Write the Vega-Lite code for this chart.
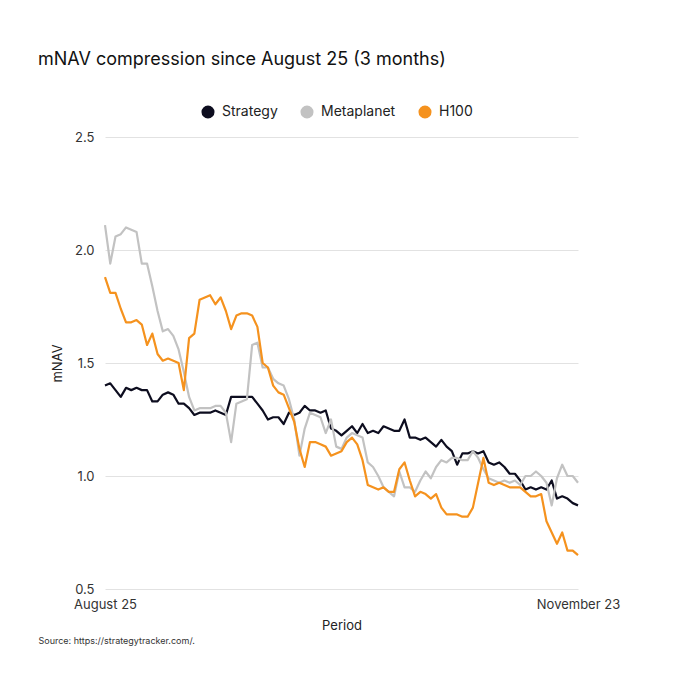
{
  "$schema": "https://vega.github.io/schema/vega-lite/v6.json",
  "width": 473,
  "height": 452,
  "autosize": {"type": "none"},
  "padding": {"left": 105, "top": 137, "right": 102, "bottom": 91},
  "background": "white",
  "config": {
    "font": "Inter",
    "view": {"stroke": null},
    "axis": {
      "labelFont": "Inter",
      "titleFont": "Inter",
      "labelColor": "#333333",
      "titleColor": "#222222",
      "labelFontSize": 13,
      "titleFontSize": 13,
      "titleFontWeight": "normal",
      "ticks": false,
      "domain": false
    }
  },
  "title": {
    "text": "mNAV compression since August 25 (3 months)",
    "anchor": "start",
    "frame": "group",
    "dx": -67,
    "offset": 36,
    "fontSize": 18,
    "fontWeight": "normal",
    "color": "#111111"
  },
  "data": {
    "values": [
      {"date": "2025-08-25", "Strategy": 1.40, "Metaplanet": 2.11, "H100": 1.88},
      {"date": "2025-08-26", "Strategy": 1.41, "Metaplanet": 1.94, "H100": 1.81},
      {"date": "2025-08-27", "Strategy": 1.38, "Metaplanet": 2.06, "H100": 1.81},
      {"date": "2025-08-28", "Strategy": 1.35, "Metaplanet": 2.07, "H100": 1.74},
      {"date": "2025-08-29", "Strategy": 1.39, "Metaplanet": 2.10, "H100": 1.68},
      {"date": "2025-08-30", "Strategy": 1.38, "Metaplanet": 2.09, "H100": 1.68},
      {"date": "2025-08-31", "Strategy": 1.39, "Metaplanet": 2.08, "H100": 1.69},
      {"date": "2025-09-01", "Strategy": 1.38, "Metaplanet": 1.94, "H100": 1.67},
      {"date": "2025-09-02", "Strategy": 1.38, "Metaplanet": 1.94, "H100": 1.58},
      {"date": "2025-09-03", "Strategy": 1.33, "Metaplanet": 1.84, "H100": 1.63},
      {"date": "2025-09-04", "Strategy": 1.33, "Metaplanet": 1.73, "H100": 1.54},
      {"date": "2025-09-05", "Strategy": 1.36, "Metaplanet": 1.64, "H100": 1.51},
      {"date": "2025-09-06", "Strategy": 1.37, "Metaplanet": 1.65, "H100": 1.52},
      {"date": "2025-09-07", "Strategy": 1.36, "Metaplanet": 1.62, "H100": 1.51},
      {"date": "2025-09-08", "Strategy": 1.32, "Metaplanet": 1.56, "H100": 1.50},
      {"date": "2025-09-09", "Strategy": 1.32, "Metaplanet": 1.46, "H100": 1.38},
      {"date": "2025-09-10", "Strategy": 1.30, "Metaplanet": 1.35, "H100": 1.61},
      {"date": "2025-09-11", "Strategy": 1.27, "Metaplanet": 1.29, "H100": 1.63},
      {"date": "2025-09-12", "Strategy": 1.28, "Metaplanet": 1.30, "H100": 1.78},
      {"date": "2025-09-13", "Strategy": 1.28, "Metaplanet": 1.30, "H100": 1.79},
      {"date": "2025-09-14", "Strategy": 1.28, "Metaplanet": 1.30, "H100": 1.80},
      {"date": "2025-09-15", "Strategy": 1.29, "Metaplanet": 1.31, "H100": 1.76},
      {"date": "2025-09-16", "Strategy": 1.28, "Metaplanet": 1.31, "H100": 1.79},
      {"date": "2025-09-17", "Strategy": 1.27, "Metaplanet": 1.28, "H100": 1.73},
      {"date": "2025-09-18", "Strategy": 1.35, "Metaplanet": 1.15, "H100": 1.65},
      {"date": "2025-09-19", "Strategy": 1.35, "Metaplanet": 1.32, "H100": 1.71},
      {"date": "2025-09-20", "Strategy": 1.35, "Metaplanet": 1.33, "H100": 1.72},
      {"date": "2025-09-21", "Strategy": 1.35, "Metaplanet": 1.34, "H100": 1.72},
      {"date": "2025-09-22", "Strategy": 1.35, "Metaplanet": 1.58, "H100": 1.71},
      {"date": "2025-09-23", "Strategy": 1.32, "Metaplanet": 1.59, "H100": 1.66},
      {"date": "2025-09-24", "Strategy": 1.29, "Metaplanet": 1.48, "H100": 1.50},
      {"date": "2025-09-25", "Strategy": 1.25, "Metaplanet": 1.48, "H100": 1.48},
      {"date": "2025-09-26", "Strategy": 1.26, "Metaplanet": 1.43, "H100": 1.40},
      {"date": "2025-09-27", "Strategy": 1.26, "Metaplanet": 1.41, "H100": 1.37},
      {"date": "2025-09-28", "Strategy": 1.23, "Metaplanet": 1.40, "H100": 1.36},
      {"date": "2025-09-29", "Strategy": 1.28, "Metaplanet": 1.34, "H100": 1.30},
      {"date": "2025-09-30", "Strategy": 1.27, "Metaplanet": 1.25, "H100": 1.24},
      {"date": "2025-10-01", "Strategy": 1.28, "Metaplanet": 1.09, "H100": 1.12},
      {"date": "2025-10-02", "Strategy": 1.31, "Metaplanet": 1.21, "H100": 1.04},
      {"date": "2025-10-03", "Strategy": 1.29, "Metaplanet": 1.28, "H100": 1.15},
      {"date": "2025-10-04", "Strategy": 1.29, "Metaplanet": 1.27, "H100": 1.15},
      {"date": "2025-10-05", "Strategy": 1.28, "Metaplanet": 1.26, "H100": 1.14},
      {"date": "2025-10-06", "Strategy": 1.29, "Metaplanet": 1.19, "H100": 1.13},
      {"date": "2025-10-07", "Strategy": 1.21, "Metaplanet": 1.25, "H100": 1.09},
      {"date": "2025-10-08", "Strategy": 1.20, "Metaplanet": 1.13, "H100": 1.10},
      {"date": "2025-10-09", "Strategy": 1.18, "Metaplanet": 1.12, "H100": 1.11},
      {"date": "2025-10-10", "Strategy": 1.20, "Metaplanet": 1.17, "H100": 1.15},
      {"date": "2025-10-11", "Strategy": 1.22, "Metaplanet": 1.19, "H100": 1.17},
      {"date": "2025-10-12", "Strategy": 1.19, "Metaplanet": 1.18, "H100": 1.14},
      {"date": "2025-10-13", "Strategy": 1.23, "Metaplanet": 1.17, "H100": 1.07},
      {"date": "2025-10-14", "Strategy": 1.19, "Metaplanet": 1.06, "H100": 0.96},
      {"date": "2025-10-15", "Strategy": 1.20, "Metaplanet": 1.04, "H100": 0.95},
      {"date": "2025-10-16", "Strategy": 1.19, "Metaplanet": 1.00, "H100": 0.94},
      {"date": "2025-10-17", "Strategy": 1.22, "Metaplanet": 0.95, "H100": 0.95},
      {"date": "2025-10-18", "Strategy": 1.21, "Metaplanet": 0.93, "H100": 0.93},
      {"date": "2025-10-19", "Strategy": 1.20, "Metaplanet": 0.91, "H100": 0.93},
      {"date": "2025-10-20", "Strategy": 1.20, "Metaplanet": 1.02, "H100": 1.03},
      {"date": "2025-10-21", "Strategy": 1.25, "Metaplanet": 0.95, "H100": 1.06},
      {"date": "2025-10-22", "Strategy": 1.17, "Metaplanet": 0.95, "H100": 0.98},
      {"date": "2025-10-23", "Strategy": 1.17, "Metaplanet": 0.93, "H100": 0.91},
      {"date": "2025-10-24", "Strategy": 1.16, "Metaplanet": 0.98, "H100": 0.93},
      {"date": "2025-10-25", "Strategy": 1.17, "Metaplanet": 1.02, "H100": 0.92},
      {"date": "2025-10-26", "Strategy": 1.15, "Metaplanet": 0.99, "H100": 0.90},
      {"date": "2025-10-27", "Strategy": 1.13, "Metaplanet": 1.04, "H100": 0.92},
      {"date": "2025-10-28", "Strategy": 1.16, "Metaplanet": 1.07, "H100": 0.86},
      {"date": "2025-10-29", "Strategy": 1.13, "Metaplanet": 1.06, "H100": 0.83},
      {"date": "2025-10-30", "Strategy": 1.11, "Metaplanet": 1.08, "H100": 0.83},
      {"date": "2025-10-31", "Strategy": 1.05, "Metaplanet": 1.08, "H100": 0.83},
      {"date": "2025-11-01", "Strategy": 1.10, "Metaplanet": 1.07, "H100": 0.82},
      {"date": "2025-11-02", "Strategy": 1.10, "Metaplanet": 1.07, "H100": 0.82},
      {"date": "2025-11-03", "Strategy": 1.11, "Metaplanet": 1.11, "H100": 0.86},
      {"date": "2025-11-04", "Strategy": 1.10, "Metaplanet": 1.08, "H100": 0.97},
      {"date": "2025-11-05", "Strategy": 1.11, "Metaplanet": 1.03, "H100": 1.08},
      {"date": "2025-11-06", "Strategy": 1.06, "Metaplanet": 0.99, "H100": 0.97},
      {"date": "2025-11-07", "Strategy": 1.05, "Metaplanet": 0.98, "H100": 0.96},
      {"date": "2025-11-08", "Strategy": 1.06, "Metaplanet": 0.97, "H100": 0.97},
      {"date": "2025-11-09", "Strategy": 1.04, "Metaplanet": 0.98, "H100": 0.96},
      {"date": "2025-11-10", "Strategy": 1.01, "Metaplanet": 0.97, "H100": 0.95},
      {"date": "2025-11-11", "Strategy": 1.01, "Metaplanet": 0.98, "H100": 0.95},
      {"date": "2025-11-12", "Strategy": 0.98, "Metaplanet": 0.96, "H100": 0.95},
      {"date": "2025-11-13", "Strategy": 0.94, "Metaplanet": 1.00, "H100": 0.93},
      {"date": "2025-11-14", "Strategy": 0.95, "Metaplanet": 1.00, "H100": 0.91},
      {"date": "2025-11-15", "Strategy": 0.94, "Metaplanet": 1.02, "H100": 0.91},
      {"date": "2025-11-16", "Strategy": 0.95, "Metaplanet": 1.00, "H100": 0.92},
      {"date": "2025-11-17", "Strategy": 0.94, "Metaplanet": 0.97, "H100": 0.80},
      {"date": "2025-11-18", "Strategy": 0.98, "Metaplanet": 0.87, "H100": 0.75},
      {"date": "2025-11-19", "Strategy": 0.90, "Metaplanet": 0.99, "H100": 0.70},
      {"date": "2025-11-20", "Strategy": 0.91, "Metaplanet": 1.05, "H100": 0.75},
      {"date": "2025-11-21", "Strategy": 0.90, "Metaplanet": 1.00, "H100": 0.67},
      {"date": "2025-11-22", "Strategy": 0.88, "Metaplanet": 1.00, "H100": 0.67},
      {"date": "2025-11-23", "Strategy": 0.87, "Metaplanet": 0.97, "H100": 0.65}
    ]
  },
  "transform": [
    {"fold": ["Strategy", "Metaplanet", "H100"], "as": ["company", "mNAV"]}
  ],
  "layer": [
    {
      "mark": {"type": "line", "strokeWidth": 2.2, "strokeJoin": "round"},
      "encoding": {
        "x": {
          "field": "date",
          "type": "temporal",
          "scale": {"type": "utc", "nice": false},
          "axis": {
            "title": "Period",
            "grid": false,
            "values": [
              {"year": 2025, "month": "aug", "date": 25, "utc": true},
              {"year": 2025, "month": "nov", "date": 23, "utc": true}
            ],
            "format": "%B %-d",
            "labelFlush": false,
            "labelPadding": 9,
            "titlePadding": 8
          }
        },
        "y": {
          "field": "mNAV",
          "type": "quantitative",
          "scale": {"domain": [0.5, 2.5], "nice": false, "zero": false},
          "axis": {
            "title": "mNAV",
            "values": [0.5, 1.0, 1.5, 2.0, 2.5],
            "format": ".1f",
            "gridColor": "#e2e2e2",
            "gridWidth": 1,
            "labelPadding": 11,
            "titlePadding": 10
          }
        },
        "color": {
          "field": "company",
          "type": "nominal",
          "sort": ["Strategy", "Metaplanet", "H100"],
          "scale": {
            "domain": ["Strategy", "Metaplanet", "H100"],
            "range": ["#0d0d1f", "#c2c2c2", "#f5921e"]
          },
          "legend": {
            "title": null,
            "orient": "none",
            "direction": "horizontal",
            "legendX": 96,
            "legendY": -32,
            "symbolType": "circle",
            "symbolSize": 170,
            "symbolStrokeWidth": 0,
            "labelFontSize": 14,
            "labelColor": "#222222",
            "labelFont": "Inter",
            "labelOffset": 7,
            "columnPadding": 22,
            "encode": {
              "symbols": {
                "update": {
                  "fill": {"scale": "color", "field": "value"},
                  "fillOpacity": {"value": 1}
                }
              }
            }
          }
        }
      }
    },
    {
      "mark": {"type": "line", "opacity": 0},
      "encoding": {
        "x": {
          "field": "date",
          "type": "temporal",
          "axis": {
            "orient": "bottom",
            "labels": false,
            "grid": false,
            "title": "Source: https://strategytracker.com/.",
            "titleX": -67,
            "titleY": 51,
            "titleAnchor": "start",
            "titleAlign": "left",
            "titleBaseline": "middle",
            "titleFontSize": 9,
            "titleColor": "#333333"
          }
        },
        "y": {"field": "mNAV", "type": "quantitative"}
      }
    }
  ],
  "resolve": {"axis": {"x": "independent"}}
}
